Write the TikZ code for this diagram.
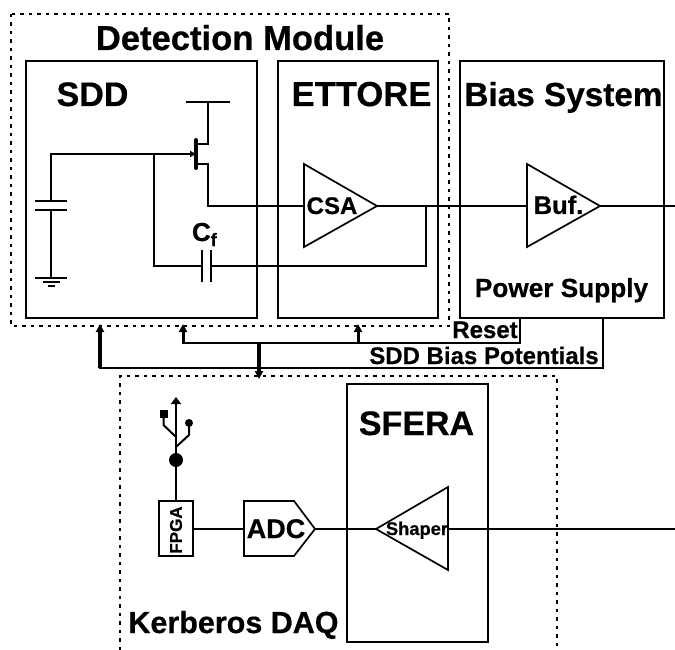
\documentclass[tikz,border=0pt]{standalone}
\usepackage{fontspec}
\setmainfont[BoldFeatures={FakeBold=0.6}]{Liberation Sans}
\usetikzlibrary{arrows.meta,calc}
\tikzset{
  wire/.style={line width=1.7pt,line cap=rect,line join=miter},
  box/.style={draw,line width=2pt,inner sep=0pt,outer sep=0pt},
  group/.style={line width=1.7pt,dash pattern=on 3.5pt off 5pt},
  amp/.style={draw,line width=1.7pt,fill=white,line join=miter},
  lab/.style={inner sep=0pt,outer sep=0pt,font=\bfseries,anchor=base},
  upar/.style={-{Triangle[length=8pt,width=8pt]},line width=3pt},
  fat/.style={-{Triangle[length=8pt,width=8pt]},line width=4pt},
}
\newcommand{\fs}[1]{\fontsize{#1}{#1}\selectfont}
\begin{document}
\begin{tikzpicture}[x=1pt,y=-1pt]
\useasboundingbox (0,0) rectangle (675,650);
% group outlines
\coordinate (dtl) at (11,14); \coordinate (dbr) at (449,326);
\draw[group] (dtl) rectangle (dbr);
\draw[group] (120,650) -- (120,376) -- (557,376) -- (557,650);
% blocks
\node[box,minimum width=231pt,minimum height=257pt] (sdd) at (141.5,189.5) {};
\node[box,minimum width=160pt,minimum height=257pt] (ettore) at (358,189.5) {};
\node[box,minimum width=204pt,minimum height=257pt] (bias) at (562,189.5) {};
\node[box,minimum width=141pt,minimum height=258pt] (sfera) at (417.5,513) {};
\node[box,minimum width=34pt,minimum height=55pt] (fpga) at (176,528.5) {};
% amplifiers
\coordinate (csaIn) at (304,206); \coordinate (csaOut) at (377,206);
\coordinate (bufIn) at (527,206); \coordinate (bufOut) at (600,206);
\coordinate (shIn) at (376,529); \coordinate (shOut) at (448,529);
\coordinate (adcIn) at (244,529); \coordinate (adcOut) at (315,529);
% MOSFET and input network
\coordinate (gate) at (196,154);
\coordinate (node1) at (154,154);
\draw[wire] (187,102) -- (229,102);
\draw[wire] (208,102) -- (208,144) -- (197,144);
\draw[wire] (197,164) -- (208,164) -- (208,206) -- (csaIn);
\draw[line width=4pt,line cap=round] (196,140) -- (196,168);
\draw[wire] (51,201) -- (51,154) -- (node1);
\draw[line width=1.7pt,-{Triangle[length=6pt,width=6pt]}] (node1) -- (gate);
% detector capacitor and ground
\draw[wire] (36,201) -- (66,201);
\draw[wire] (36,210) -- (66,210);
\draw[wire] (51,210) -- (51,278);
\draw[wire] (36,278) -- (66,278);
\draw[wire] (44,282) -- (59,282);
\draw[wire] (49,286) -- (54,286);
% feedback
\draw[wire] (node1) -- (154,266) -- (202,266);
\draw[wire] (202,251) -- (202,281);
\draw[wire] (211,251) -- (211,281);
\draw[wire] (211,266) -- (426,266) -- (426,206);
% signal chain
\draw[wire] (csaOut) -- (bufIn);
\draw[wire] (bufOut) -- (675,206);
\draw[wire] (adcOut) -- (shIn);
\draw[wire] (shOut) -- (675,529);
\draw[wire] (fpga.east |- adcIn) -- (adcIn);
\draw[amp] (304,164) -- (csaOut) -- (304,247) -- cycle;
\draw[amp] (527,164) -- (bufOut) -- (527,247) -- cycle;
\draw[amp] (448,487) -- (shIn) -- (448,570) -- cycle;
\draw[amp] (244,501) -- (294,501) -- (adcOut) -- (294,556) -- (244,556) -- cycle;
% buses
\draw[wire] (183,343) -- (520,343) -- (520,318);
\draw[wire] (100,368) -- (603,368) -- (603,318);
\draw[upar] (183,343) -- (183,324);
\draw[upar] (358,343) -- (358,324);
\draw[fat] (100,368) -- (100,324);
\draw[fat] (259,343) -- (259,379);
% USB symbol
\coordinate (usb) at (176,460);
\draw[wire] (fpga.north) -- (usb);
\fill (usb) circle (7pt);
\draw[line width=2pt,-{Triangle[length=7pt,width=10pt]}] (usb) -- (176,397);
\draw[line width=2pt,line join=round] (163.5,414) -- (163.5,425) -- (176,437);
\draw[line width=2pt,line join=round] (189,423) -- (189,435) -- (176,447);
\fill (160,410) rectangle (168,418);
\fill (189,423) circle (4pt);
% labels
\node[lab] (t1) at (240,50) {\fs{34.6}Detection Module};
\node[lab] (t2) at (92.5,106) {\fs{34}SDD};
\node[lab] (t3) at (361.5,106) {\fs{34.6}ETTORE};
\node[lab] (t4) at (563.5,106) {\fs{33.3}Bias System};
\node[lab] (t5) at (561.5,297) {\fs{26.2}Power Supply};
\node[lab] (t6) at (332,214) {\fs{24}CSA};
\node[lab] (t7) at (558.5,214) {\fs{25.5}Buf.};
\node[lab,anchor=base west] (t8) at (192,241) {\fs{26}C\raisebox{-5pt}{\fs{18}f}};
\node[lab] (t9) at (485,338) {\fs{24}Reset};
\node[lab] (t10) at (484,364) {\fs{24}SDD Bias Potentials};
\node[lab,rotate=90,anchor=center] (t11) at (176,530) {\fs{17}FPGA};
\node[lab] (t12) at (276,538) {\fs{27}ADC};
\node[lab] (t13) at (416.5,435) {\fs{34}SFERA};
\node[lab] (t14) at (417,535) {\fs{18.3}Shaper};
\node[lab] (t15) at (233.5,633) {\fs{30.5}Kerberos DAQ};
\end{tikzpicture}
\end{document}
